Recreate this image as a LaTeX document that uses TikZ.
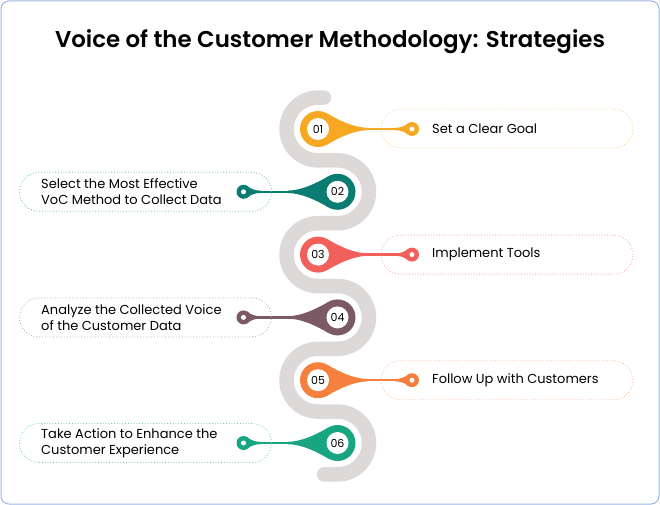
\documentclass[tikz,border=0pt]{standalone}
\usepackage{fontspec}
\setmainfont{Poppins}
\newfontfamily\titlefont{Poppins SemiBold}
\usetikzlibrary{calc}
\definecolor{trackgray}{HTML}{DDD9D8}
\definecolor{frameblue}{HTML}{9DB4E2}
\definecolor{cA}{HTML}{F7A823}
\definecolor{cB}{HTML}{0B7C72}
\definecolor{cC}{HTML}{F2605C}
\definecolor{cD}{HTML}{7B5A66}
\definecolor{cE}{HTML}{F5803E}
\definecolor{cF}{HTML}{17A582}
\tikzset{
  frame/.style={draw=frameblue, line width=1pt, rounded corners=8pt},
  heading/.style={font=\titlefont\fontsize{22.9}{27}\selectfont},
  track/.style={draw=trackgray, line width=14.5pt, line cap=round},
  ring/.style={circle, fill=#1, minimum size=36pt, inner sep=0pt},
  hole/.style={circle, fill=white, minimum size=22pt, inner sep=0pt, font=\fontsize{11}{11}\selectfont},
  pin/.style={circle, fill=#1, minimum size=14pt, inner sep=0pt},
  pinhole/.style={circle, fill=white, minimum size=5pt, inner sep=0pt},
  stem/.style={draw=#1, line width=2.4pt},
  stepbox/.style={draw=#1!60, dotted, line width=0.8pt, rounded corners=19.5pt,
    minimum width=252pt, minimum height=39pt, inner sep=0pt},
  steptext/.style={anchor=west, align=left, inner sep=0pt, font=\fontsize{13}{16}\selectfont},
}

\begin{document}
\begin{tikzpicture}[x=1pt,y=-1pt]
  \useasboundingbox (0,0) rectangle (660,505);
  % frame and title
  \draw[frame] (1,1) rectangle (659,504);
  \node[heading] (title) at (330,42) {Voice of the Customer Methodology: Strategies};

  % serpentine track
  \draw[track] (324,97.6) -- (318,97.6)
    arc[start angle=270, end angle=90, x radius=31.5, y radius=31.4] -- ++(19.5,0)
    arc[start angle=-90, end angle=90, x radius=31.5, y radius=31.4] -- ++(-19.5,0)
    arc[start angle=270, end angle=90, x radius=31.5, y radius=31.4] -- ++(19.5,0)
    arc[start angle=-90, end angle=90, x radius=31.5, y radius=31.4] -- ++(-19.5,0)
    arc[start angle=270, end angle=90, x radius=31.5, y radius=31.4] -- ++(19.5,0)
    arc[start angle=-90, end angle=90, x radius=31.5, y radius=31.4] -- ++(-13.5,0);

  % markers: index / x / side / colour
  \foreach \i/\cx/\s/\col in {1/318/1/cA, 2/337.5/-1/cB, 3/318/1/cC,
                              4/337.5/-1/cD, 5/318/1/cE, 6/337.5/-1/cF}{
    \pgfmathsetmacro{\cy}{129+62.8*(\i-1)}
    \node[ring=\col] (c\i) at (\cx,\cy) {};
    \node[pin=\col] (p\i) at (\cx+\s*94,\cy) {};
    \draw[stem=\col] (c\i) -- (p\i);
    % taper from the ring
    \fill[\col] ($(c\i)+(\s*9,-15.6)$) .. controls +(\s*12,7) and +(-\s*14,0) .. ($(c\i)+(\s*50,-1.2)$)
      -- ($(c\i)+(\s*50,1.2)$) .. controls +(-\s*14,0) and +(\s*12,-7) .. ($(c\i)+(\s*9,15.6)$) -- cycle;
    % small flare at the pin
    \fill[\col] ($(p\i)+(-\s*3.5,-6)$) .. controls +(-\s*4,3.5) and +(\s*5,0) .. ($(p\i)+(-\s*17,-1.2)$)
      -- ($(p\i)+(-\s*17,1.2)$) .. controls +(\s*5,0) and +(-\s*4,-3.5) .. ($(p\i)+(-\s*3.5,6)$) -- cycle;
    \node[hole] (n\i) at (c\i) {0\i};
    \node[pinhole] (d\i) at (p\i) {};
  }

  % step boxes
  \node[stepbox=cA] (b1) at (507,128.5) {};
  \node[stepbox=cB] (b2) at (145.5,191.8) {};
  \node[stepbox=cC] (b3) at (507,254.6) {};
  \node[stepbox=cD] (b4) at (145.5,317.4) {};
  \node[stepbox=cE] (b5) at (507,380.2) {};
  \node[stepbox=cF] (b6) at (145.5,443) {};

  % step texts
  \node[steptext] (t1) at (432,129) {Set a Clear Goal};
  \node[steptext] (t2) at (41,191.8) {Select the Most Effective\\VoC Method to Collect Data};
  \node[steptext] (t3) at (432,254.6) {Implement Tools};
  \node[steptext] (t4) at (41,317.4) {Analyze the Collected Voice\\of the Customer Data};
  \node[steptext] (t5) at (432,380.2) {Follow Up with Customers};
  \node[steptext] (t6) at (41,443) {Take Action to Enhance the\\Customer Experience};
\end{tikzpicture}
\end{document}
